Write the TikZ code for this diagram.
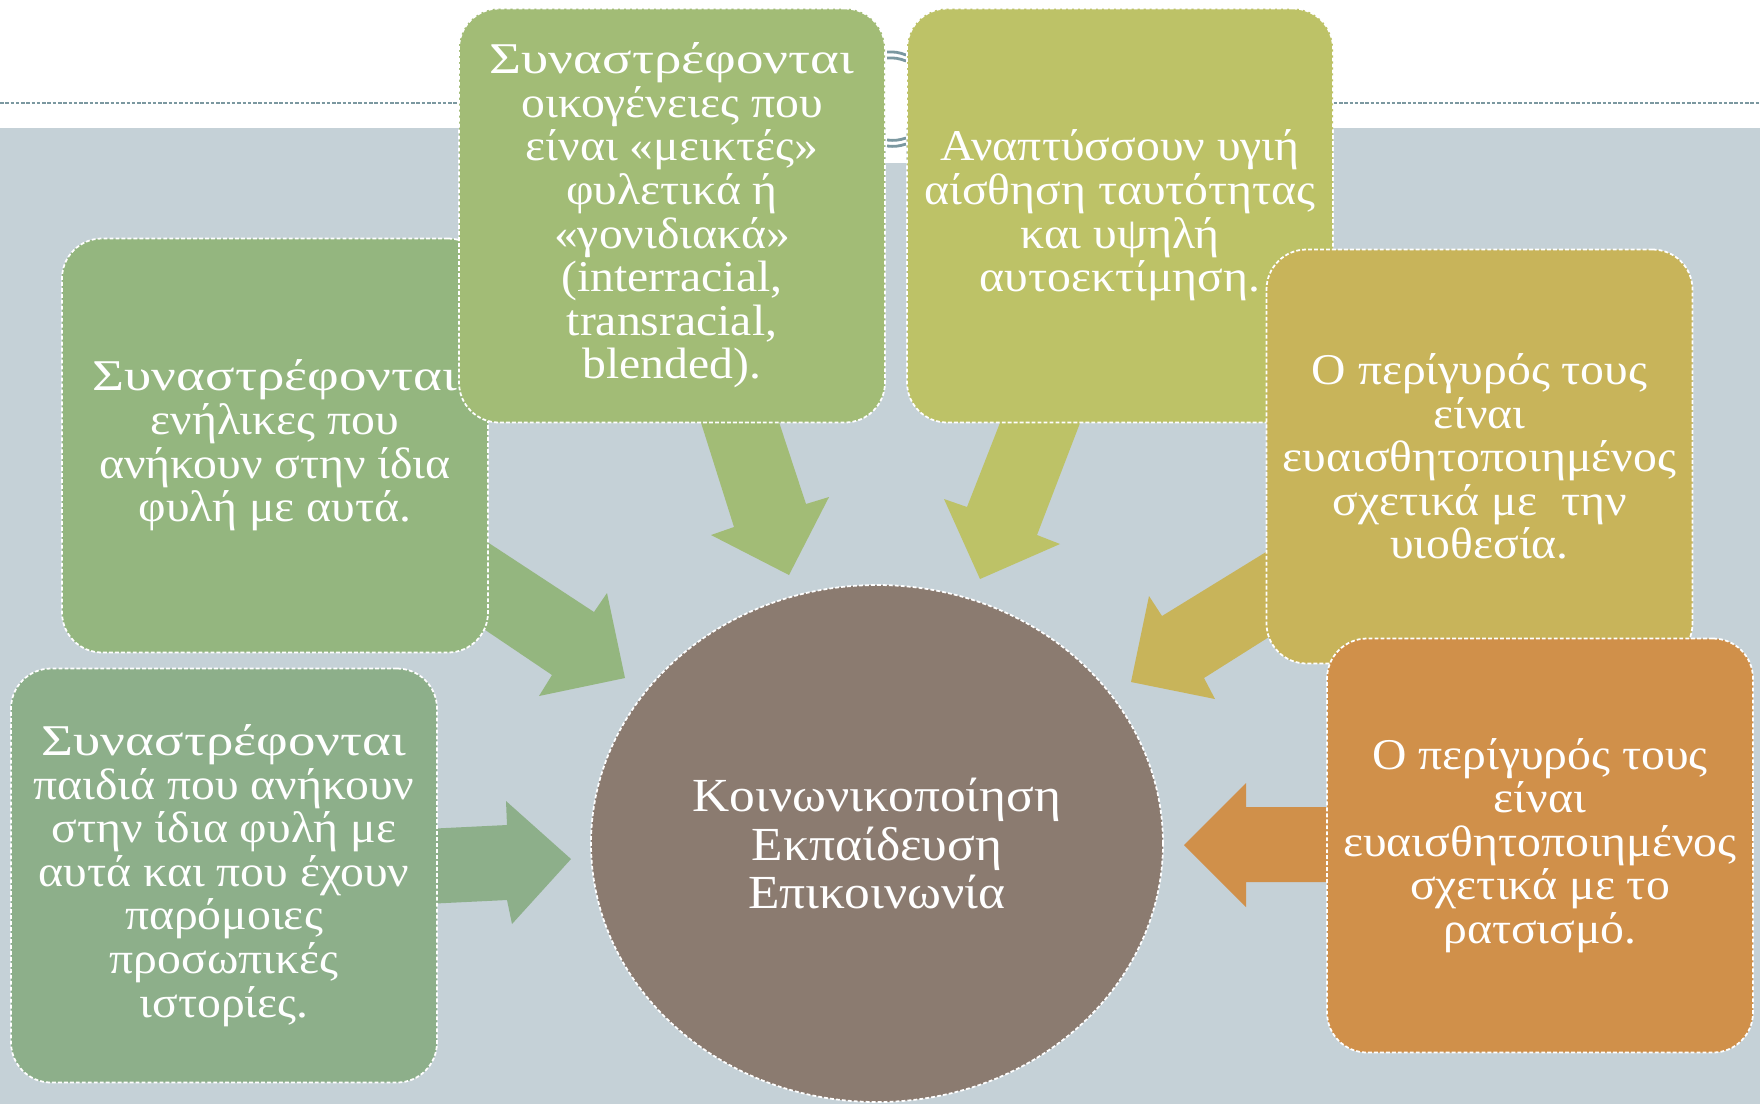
\documentclass[tikz,border=0pt]{standalone}
\usepackage{fontspec}
\setmainfont[FakeStretch=1.085]{Liberation Serif}
\newfontfamily\widefont[FakeStretch=1.25]{Liberation Serif}
\usetikzlibrary{shapes.geometric}

\definecolor{slidegray}{HTML}{C5D1D7}
\definecolor{rulegray}{HTML}{7B98A0}
\definecolor{greenA}{HTML}{A2BC76}
\definecolor{oliveB}{HTML}{BDC267}
\definecolor{greenC}{HTML}{94B67F}
\definecolor{sageD}{HTML}{8DAF8A}
\definecolor{mustardE}{HTML}{C8B45A}
\definecolor{orangeF}{HTML}{D0904A}
\definecolor{taupe}{HTML}{8B7B70}

\newcommand{\mixword}{{\widefont Συναστρέφονται}}

\tikzset{
  box/.style={rectangle, rounded corners=4mm, minimum width=42.6mm,
    minimum height=41.4mm, inner sep=0pt, draw=white, line width=0.5pt,
    dash pattern=on 1.1pt off 0.6pt, text=white, align=center,
    font=\fontsize{12.5}{12.4}\selectfont},
  hub/.style={ellipse, minimum width=57.2mm, minimum height=51.7mm,
    inner sep=0pt, fill=taupe, draw=white, line width=0.5pt,
    dash pattern=on 1.1pt off 0.6pt, text=white, align=center,
    font=\fontsize{13.5}{13.9}\selectfont},
}

\begin{document}
\begin{tikzpicture}[x=0.1mm,y=-0.1mm]
\useasboundingbox (0,0) rectangle (1760,1104);
%
\fill[white] (0,0) rectangle (1760,1104);
\fill[slidegray] (0,128) rectangle (1760,1104);
\draw[rulegray, line width=0.4pt, dash pattern=on 1pt off 0.5pt] (0,103) -- (1760,103);
\fill[white] (886,0) rectangle (906,163);
\draw[rulegray, line width=0.8pt] (887,52) to[bend left=12] (906,55);
\draw[rulegray, line width=0.8pt] (887,58) to[bend left=12] (906,61);
\draw[rulegray, line width=0.8pt] (887,140) to[bend right=12] (906,138);
\draw[rulegray, line width=0.8pt] (887,146) to[bend right=12] (906,144);
%
\fill[greenC] (472,532) -- (594,612) -- (607,593) -- (625,678) -- (539,696) -- (552,675) -- (469,619) -- cycle;
\fill[greenA] (697,410) -- (734,527) -- (711,535) -- (789,575) -- (829,497) -- (806,504) -- (775,410) -- cycle;
\fill[oliveB] (1005,410) -- (967,507) -- (944,499) -- (980,579) -- (1060,544) -- (1037,535) -- (1085,410) -- cycle;
\fill[mustardE] (1279,544) -- (1162,616) -- (1149,596) -- (1131,682) -- (1215,699) -- (1204,678) -- (1280,630) -- cycle;
\fill[sageD] (425,829) -- (507,825) -- (506,801) -- (571,859) -- (512,924) -- (507,900) -- (425,904) -- cycle;
\fill[orangeF] (1340,807) -- (1246,807) -- (1246,783) -- (1184,845) -- (1246,907) -- (1246,882) -- (1340,882) -- cycle;
%
\node[box, fill=greenC] (adults) at (275,445.5) {\mixword\\ενήλικες που\\ανήκουν στην ίδια\\φυλή με αυτά.};
\node[box, fill=sageD] (children) at (224,875.5) {\mixword\\παιδιά που ανήκουν\\στην ίδια φυλή με\\αυτά και που έχουν\\παρόμοιες\\προσωπικές\\ιστορίες.};
\node[box, fill=greenA] (families) at (672,215.5) {\mixword\\οικογένειες που\\είναι «μεικτές»\\φυλετικά ή\\«γονιδιακά»\\(interracial,\\transracial,\\blended).};
\node[box, fill=oliveB] (identity) at (1120,215.5) {Αναπτύσσουν υγιή\\αίσθηση ταυτότητας\\και υψηλή\\αυτοεκτίμηση.};
\node[box, fill=mustardE] (adoption) at (1479.5,456.5) {Ο περίγυρός τους\\είναι\\ευαισθητοποιημένος\\σχετικά με\ \ την\\υιοθεσία.};
\node[box, fill=orangeF] (racism) at (1540,845.5) {Ο περίγυρός τους\\είναι\\ευαισθητοποιημένος\\σχετικά με το\\ρατσισμό.};
%
\node[hub] (centre) at (877,843.5) {Κοινωνικοποίηση\\Εκπαίδευση\\Επικοινωνία};
\end{tikzpicture}
\end{document}
